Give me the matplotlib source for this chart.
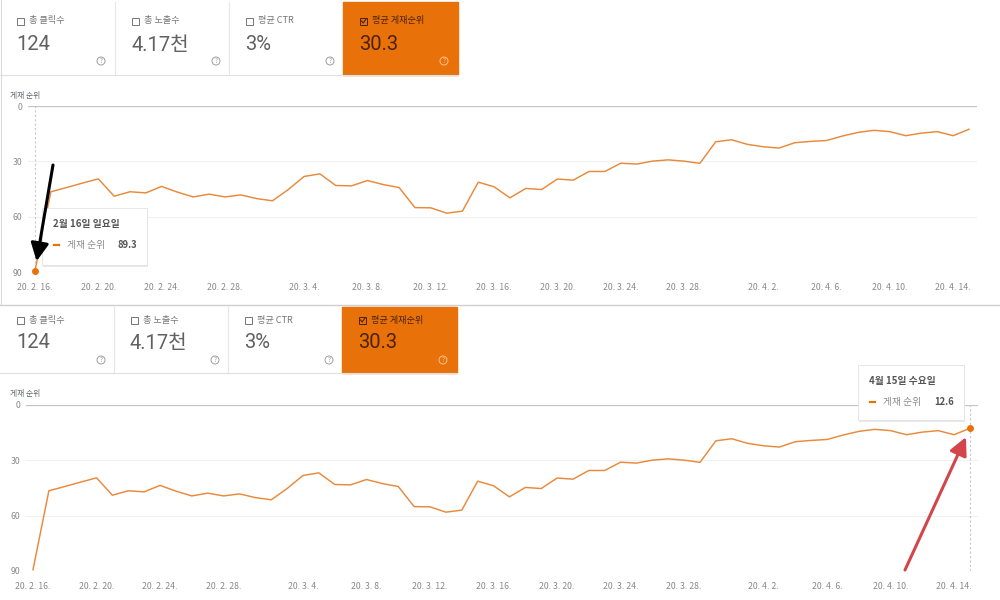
import matplotlib
matplotlib.use('Agg')
import matplotlib.pyplot as plt
import matplotlib.dates as mdates
from matplotlib.patches import Rectangle, Circle, FancyBboxPatch
import pandas as pd

plt.rcParams['font.family'] = ['Noto Sans CJK KR', 'DejaVu Sans']

# ---- data ----
dates = pd.date_range('2020-02-16', '2020-04-15', freq='D')
position = [89.3, 46.5, 44.2, 41.8, 39.5, 48.9, 46.5, 47.1, 43.6, 46.7,
            49.3, 47.8, 49.3, 48.2, 50.2, 51.4, 45.3, 38.2, 36.8, 43.1,
            43.3, 40.4, 42.6, 44.2, 55.1, 55.2, 58.1, 57.0, 41.3, 43.8,
            49.8, 44.7, 45.3, 39.6, 40.2, 35.5, 35.5, 31.0, 31.5, 29.9,
            29.2, 29.9, 31.1, 19.4, 18.3, 20.8, 22.1, 22.8, 19.9, 19.2,
            18.7, 16.3, 14.3, 13.2, 13.9, 16.1, 14.7, 13.9, 16.1, 12.6]
tick_dates = pd.to_datetime(['2020-02-16', '2020-02-20', '2020-02-24', '2020-02-28',
                             '2020-03-04', '2020-03-08', '2020-03-12', '2020-03-16',
                             '2020-03-20', '2020-03-24', '2020-03-28', '2020-04-02',
                             '2020-04-06', '2020-04-10', '2020-04-14'])
tick_labels = ['20. 2. 16.', '20. 2. 20.', '20. 2. 24.', '20. 2. 28.', '20. 3. 4.',
               '20. 3. 8.', '20. 3. 12.', '20. 3. 16.', '20. 3. 20.', '20. 3. 24.',
               '20. 3. 28.', '20. 4. 2.', '20. 4. 6.', '20. 4. 10.', '20. 4. 14.']
y_ticks = [0, 30, 60, 90]
card_labels = ['총 클릭수', '총 노출수', '평균 CTR', '평균 게재순위']
card_values = ['124', '4.17천', '3%', '30.3']
series_name = '게재 순위'

ORANGE = '#E8710A'
LINE = '#E9893A'
GREY = '#757575'
W, H = 1000, 600

fig = plt.figure(figsize=(10, 6), dpi=100)
fig.patch.set_facecolor('white')

# pixel-coordinate overlay axes (background and foreground)
bg = fig.add_axes([0, 0, 1, 1], zorder=0)
fg = fig.add_axes([0, 0, 1, 1], zorder=5)
for a in (bg, fg):
    a.set_xlim(0, W)
    a.set_ylim(H, 0)
    a.axis('off')
fg.patch.set_alpha(0)


def draw_cards(top, bottom, xs, label_y, value_y, help_y):
    for i, (lab, val) in enumerate(zip(card_labels, card_values)):
        x0, x1 = xs[i], xs[i + 1]
        sel = i == 3
        if sel:
            bg.add_patch(Rectangle((x0, top), x1 - x0, bottom - top, color=ORANGE, zorder=2))
            lc, vc, hc = '#4a2306', '#4a2306', '#f6c48e'
        else:
            bg.plot([x1, x1], [top, bottom], color='#e6e6e6', lw=0.8)
            lc, vc, hc = GREY, '#616161', '#9e9e9e'
        # checkbox
        bg.add_patch(Rectangle((x0 + 17, label_y - 3.5), 7, 7, fill=False,
                               ec=lc, lw=0.7, zorder=3))
        if sel:
            bg.plot([x0 + 18.5, x0 + 20.2, x0 + 23], [label_y, label_y + 2, label_y - 2],
                    color=lc, lw=0.8, zorder=3)
        bg.text(x0 + 29, label_y, lab, fontsize=6.6, va='center', ha='left',
                color=lc, zorder=3)
        bg.text(x0 + 16, value_y, val, fontsize=14.5, va='center', ha='left',
                color=vc, family=['Roboto', 'Noto Sans CJK KR'], zorder=3)
        bg.add_patch(Circle((x0 + 101, help_y), 4, fill=False, ec=hc, lw=0.7, zorder=3))
        bg.text(x0 + 101, help_y + 0.3, '?', fontsize=4.5, ha='center', va='center',
                color=hc, zorder=3)
    bg.plot([xs[0], xs[-1]], [bottom, bottom], color='#e0e0e0', lw=0.8)


def draw_chart(x0, x1, y0, y1, first_px, last_px, title_y, hover_idx):
    ax = fig.add_axes([x0 / W, 1 - y1 / H, (x1 - x0) / W, (y1 - y0) / H], zorder=2)
    ax.patch.set_alpha(0)
    d0, d1 = mdates.date2num(dates[0]), mdates.date2num(dates[-1])
    ppd = (last_px - first_px) / (d1 - d0)
    ax.set_xlim(d0 - (first_px - x0) / ppd, d1 + (x1 - last_px) / ppd)
    ax.set_ylim(90, 0)
    ax.plot(dates, position, color=LINE, lw=1.05, solid_joinstyle='round', zorder=3)
    ax.set_yticks(y_ticks)
    ax.set_xticks(tick_dates)
    ax.set_xticklabels(tick_labels)
    ax.tick_params(axis='x', length=0, pad=8, labelsize=6.3, labelcolor='#8a8a8a')
    ax.tick_params(axis='y', length=0, pad=4, labelsize=6.3, labelcolor='#8a8a8a')
    ax.grid(axis='y', color='#f0f0f0', lw=0.8)
    ax.axhline(0, color='#c4c4c4', lw=0.9, zorder=2)
    for s in ax.spines.values():
        s.set_visible(False)
    ax.axvline(dates[hover_idx], color='#c8c8c8', lw=0.8, ls=(0, (2, 2)), zorder=2)
    ax.plot(dates[hover_idx], position[hover_idx], 'o', color=ORANGE, ms=4,
            clip_on=False, zorder=4)
    bg.text(10, title_y, series_name, fontsize=5.6, color='#5f6368', va='center')
    return ax


def draw_tooltip(x0, y0, x1, y1, title, value):
    fg.add_patch(FancyBboxPatch((x0 + 1, y0 + 1.5), x1 - x0, y1 - y0,
                                boxstyle='square,pad=0', fc='#e9e9e9', ec='none', zorder=1))
    fg.add_patch(FancyBboxPatch((x0, y0), x1 - x0, y1 - y0, boxstyle='square,pad=0',
                                fc='white', ec='#e2e2e2', lw=0.6, zorder=2))
    fg.text(x0 + 11, y0 + 16, title, fontsize=7, fontweight='bold', color='#555555',
            va='center', zorder=3)
    fg.plot([x0 + 12, x0 + 17], [y0 + 37, y0 + 37], color=ORANGE, lw=1.6, zorder=3)
    fg.text(x0 + 25, y0 + 37, series_name, fontsize=7, color='#8a8a8a', va='center', zorder=3)
    fg.text(x1 - 10, y0 + 37, value, fontsize=6.8, fontweight='bold', color='#555555',
            va='center', ha='right', zorder=3)


# ---- top screenshot ----
draw_cards(2, 75, [0, 115, 229, 343, 458], 21, 45, 61)
ax1 = draw_chart(28, 977, 106, 272, 35, 969, 96, 0)
bg.plot([1, 1], [0, 305], color='#dcdcdc', lw=0.8)
bg.plot([0, W], [305, 305], color='#cfcfcf', lw=1.0)
draw_tooltip(42, 208, 147, 265, '2월 16일 일요일', f'{position[0]:.1f}')
fg.annotate('', xy=(mdates.date2num(dates[0]), position[0]), xycoords=ax1.transData,
            xytext=(53, 165), textcoords=fg.transData,
            arrowprops=dict(arrowstyle='-|>,head_length=0.9,head_width=0.45',
                            color='black', lw=2.2, shrinkA=0, shrinkB=7, mutation_scale=12))

# ---- bottom screenshot ----
draw_cards(307, 373, [0, 114, 228, 342, 457], 320, 343, 360)
ax2 = draw_chart(26, 978, 405, 571, 33, 970, 394, len(dates) - 1)
draw_tooltip(858, 365, 964, 420, '4월 15일 수요일', f'{position[-1]:.1f}')
fg.annotate('', xy=(mdates.date2num(dates[-1]), position[-1]), xycoords=ax2.transData,
            xytext=(905, 570), textcoords=fg.transData,
            arrowprops=dict(arrowstyle='-|>,head_length=0.9,head_width=0.45',
                            color='#d2454b', lw=2.2, shrinkA=0, shrinkB=7, mutation_scale=12))

fig.savefig('out.png', dpi=100, facecolor='white')
